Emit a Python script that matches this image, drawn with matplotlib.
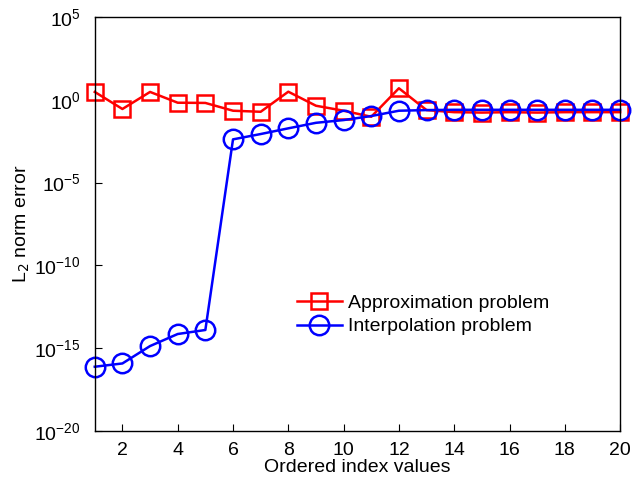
import numpy as np
import matplotlib
matplotlib.use('Agg')
from matplotlib import pylab as plt

plt.rcParams['font.family'] = ['Liberation Sans', 'DejaVu Sans']

idx = np.arange(1, 21)
approx_err = [3.0, 0.28, 3.0, 0.67, 0.65, 0.22, 0.19, 3.1, 0.44, 0.22,
              0.095, 5.0, 0.24, 0.18, 0.17, 0.18, 0.17, 0.18, 0.18, 0.18]
interp_err = [7.6e-17, 1.2e-16, 1.35e-15, 7.2e-15, 1.26e-14, 0.0041, 0.0086,
              0.019, 0.041, 0.06, 0.105, 0.22, 0.24, 0.25, 0.25, 0.25, 0.25,
              0.25, 0.25, 0.25]
xticks = [2, 4, 6, 8, 10, 12, 14, 16, 18, 20]
yticks = [1e-20, 1e-15, 1e-10, 1e-5, 1e0, 1e5]

fig = plt.figure(figsize=(6.36, 4.87), dpi=100)
ax = fig.add_axes([0.149, 0.115, 0.826, 0.85])

ax.semilogy(idx, approx_err, 's-', color='red', lw=1.8, ms=12,
            mew=1.8, mfc='none', label='Approximation problem', clip_on=False)
ax.semilogy(idx, interp_err, 'o-', color='blue', lw=1.8, ms=14,
            mew=1.8, mfc='none', label='Interpolation problem', clip_on=False)

ax.set_xlim(1, 20)
ax.set_ylim(1e-20, 1e5)
ax.set_xticks(xticks)
ax.set_yticks(yticks)
ax.minorticks_off()
ax.tick_params(direction='in', labelsize=14, length=5)
ax.tick_params(axis='y', pad=10)
ax.tick_params(axis='x', pad=8)
for s in ax.spines.values():
    s.set_linewidth(1.0)
ax.set_xlabel('Ordered index values', fontsize=14, labelpad=0)
ax.set_ylabel('L$_2$ norm error', fontsize=14, labelpad=2)

ax.legend(loc='upper left', bbox_to_anchor=(0.385, 0.33), frameon=False,
          fontsize=14, handlelength=2.3, borderaxespad=0, borderpad=0,
          labelspacing=0.3, handletextpad=0.3)

fig.savefig('out.png', dpi=100)
